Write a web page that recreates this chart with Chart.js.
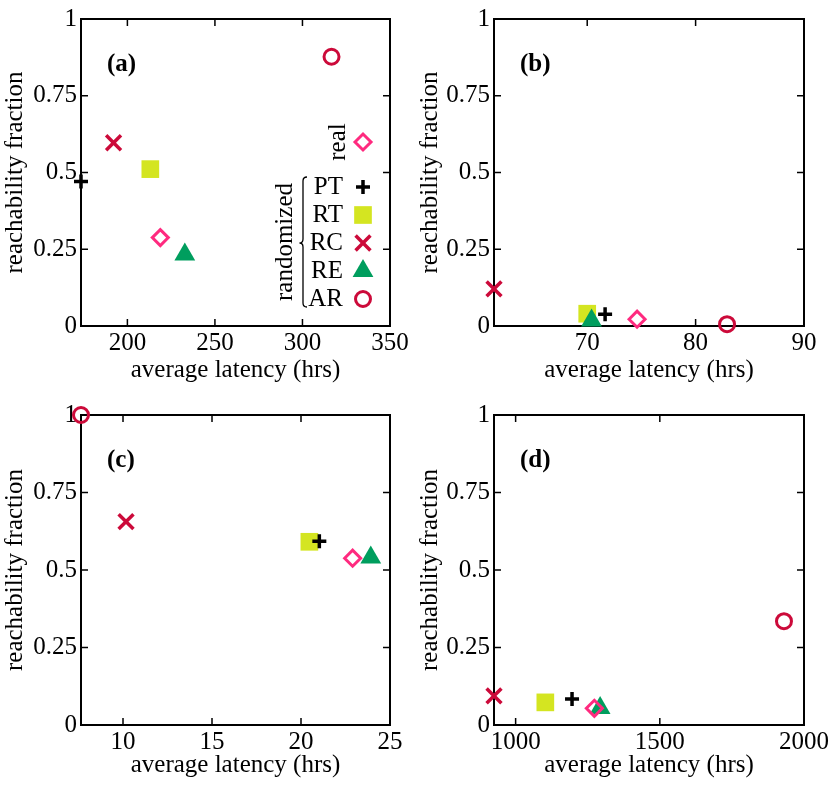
<!DOCTYPE html>
<html>
<head>
<meta charset="utf-8">
<script src="https://cdn.jsdelivr.net/npm/chart.js@4.4.0/dist/chart.umd.min.js"></script>
<style>
  body { margin: 0; background: #fff; }
  canvas { position: absolute; }
</style>
</head>
<body>
<canvas id="pa" width="415" height="395" style="left:0;top:0"></canvas>
<canvas id="pb" width="416" height="395" style="left:415px;top:0"></canvas>
<canvas id="pc" width="415" height="395" style="left:0;top:395px"></canvas>
<canvas id="pd" width="416" height="395" style="left:415px;top:395px"></canvas>
<script>
// series order: real, PT, RT, RC, RE, AR
var seriesNames = ['real', 'PT', 'RT', 'RC', 'RE', 'AR'];

var latencyA = [218.8, 173.5, 213.1, 192.1, 232.8, 316.6];
var reachA = [0.288, 0.471, 0.511, 0.597, 0.233, 0.877];

var latencyB = [74.6, 71.65, 70.0, 61.4, 70.4, 82.9];
var reachB = [0.022, 0.038, 0.040, 0.121, 0.018, 0.006];

var latencyC = [22.9, 21.03, 20.47, 10.17, 23.92, 7.64];
var reachC = [0.538, 0.593, 0.591, 0.656, 0.540, 1.0];

var latencyD = [1273, 1195.6, 1103, 925, 1293, 1930.6];
var reachD = [0.054, 0.084, 0.073, 0.094, 0.055, 0.335];

var xTicksA = [200, 250, 300, 350];
var xTicksB = [70, 80, 90];
var xTicksC = [10, 15, 20, 25];
var xTicksD = [1000, 1500, 2000];
var xLabelsA = ['200', '250', '300', '350'];
var xLabelsB = ['70', '80', '90'];
var xLabelsC = ['10', '15', '20', '25'];
var xLabelsD = ['1000', '1500', '2000'];
var yTicks = [0, 0.25, 0.5, 0.75, 1];
var yLabels = ['0', '0.25', '0.5', '0.75', '1'];

var FONT = '"Liberation Serif", "DejaVu Serif", serif';
Chart.defaults.font.family = FONT;
Chart.defaults.font.size = 25;
Chart.defaults.color = '#000';

var crimson = '#cc0a3a';
var styles = {
    real: {pointStyle: 'rectRot', pointRadius: 8, borderColor: '#ff2a7f', backgroundColor: 'rgba(0,0,0,0)', borderWidth: 3, order: 1},
    PT: {pointStyle: 'cross', pointRadius: 7, borderColor: '#000', backgroundColor: '#000', borderWidth: 3.5, order: 3},
    RT: {pointStyle: 'rect', pointRadius: 12.5, borderColor: '#d4e521', backgroundColor: '#d4e521', borderWidth: 0, order: 4},
    RC: {pointStyle: 'crossRot', pointRadius: 10.5, borderColor: crimson, backgroundColor: crimson, borderWidth: 3.5, order: 1},
    RE: {pointStyle: 'triangle', pointRadius: 12, borderColor: '#009e5e', backgroundColor: '#009e5e', borderWidth: 0, order: 2},
    AR: {pointStyle: 'circle', pointRadius: 7.5, borderColor: crimson, backgroundColor: 'rgba(0,0,0,0)', borderWidth: 3, order: 1}
};

function marker(ctx, name, x, y) {
    var s = styles[name];
    ctx.save();
    ctx.strokeStyle = s.borderColor;
    ctx.fillStyle = s.backgroundColor;
    ctx.lineWidth = s.borderWidth;
    Chart.helpers.drawPoint(ctx, {pointStyle: s.pointStyle, radius: s.pointRadius, rotation: 0, borderWidth: s.borderWidth}, x, y);
    ctx.restore();
}

// box with inward ticks on all four sides, plus panel tag
var framePlugin = {
    id: 'frame',
    beforeDatasetsDraw: function (chart, args, opts) {
        var ctx = chart.ctx, a = chart.chartArea;
        var xs = chart.scales.x, ys = chart.scales.y;
        ctx.save();
        ctx.strokeStyle = '#000';
        ctx.lineWidth = 1.5;
        ctx.beginPath();
        xs.ticks.forEach(function (t) {
            var px = xs.getPixelForValue(t.value);
            if (px > a.left + 2 && px < a.right - 2) {
                ctx.moveTo(px, a.bottom); ctx.lineTo(px, a.bottom - 7);
                ctx.moveTo(px, a.top); ctx.lineTo(px, a.top + 7);
            }
        });
        ys.ticks.forEach(function (t) {
            var py = ys.getPixelForValue(t.value);
            if (py > a.top + 2 && py < a.bottom - 2) {
                ctx.moveTo(a.left, py); ctx.lineTo(a.left + 7, py);
                ctx.moveTo(a.right, py); ctx.lineTo(a.right - 7, py);
            }
        });
        ctx.stroke();
        ctx.lineWidth = 2;
        ctx.strokeRect(a.left, a.top, a.width, a.height);
        ctx.font = 'bold 25px ' + FONT;
        ctx.fillStyle = '#000';
        ctx.textBaseline = 'middle';
        ctx.textAlign = 'left';
        ctx.fillText(opts.tag, a.left + 26, a.top + 46);
        ctx.restore();
    }
};

// the key only sits in panel (a)
var keyPlugin = {
    id: 'key',
    afterDatasetsDraw: function (chart, args, opts) {
        if (!opts.show) return;
        var ctx = chart.ctx;
        ctx.save();
        ctx.fillStyle = '#000';
        ctx.font = '25px ' + FONT;
        ctx.textBaseline = 'middle';

        ctx.save();
        ctx.translate(338, 142);
        ctx.rotate(-Math.PI / 2);
        ctx.textAlign = 'center';
        ctx.fillText('real', 0, 0);
        ctx.restore();
        marker(ctx, 'real', 363, 142);

        ctx.save();
        ctx.translate(285, 242);
        ctx.rotate(-Math.PI / 2);
        ctx.textAlign = 'center';
        ctx.fillText('randomized', 0, 0);
        ctx.restore();

        ctx.strokeStyle = '#000';
        ctx.lineWidth = 1.3;
        ctx.beginPath();
        ctx.moveTo(307, 177);
        ctx.quadraticCurveTo(303, 177, 303, 181);
        ctx.lineTo(303, 239);
        ctx.quadraticCurveTo(303, 243, 299.5, 243);
        ctx.quadraticCurveTo(303, 243, 303, 247);
        ctx.lineTo(303, 303);
        ctx.quadraticCurveTo(303, 307, 307, 307);
        ctx.stroke();

        var rows = ['PT', 'RT', 'RC', 'RE', 'AR'];
        ctx.textAlign = 'right';
        rows.forEach(function (name, i) {
            var yy = 187 + i * 28;
            ctx.fillText(name, 343, yy);
            marker(ctx, name, 363, yy);
        });
        ctx.restore();
    }
};

function makePanel(id, box, lat, reach, xTicks, xLabels, tag, showKey) {
    var datasets = seriesNames.map(function (name, i) {
        var s = styles[name];
        return {
            label: name,
            data: [{x: lat[i], y: reach[i]}],
            pointStyle: s.pointStyle,
            pointRadius: s.pointRadius,
            pointHoverRadius: s.pointRadius,
            borderColor: s.borderColor,
            backgroundColor: s.backgroundColor,
            borderWidth: s.borderWidth,
            order: s.order,
            clip: false
        };
    });
    var w = box.w, h = box.h;
    return new Chart(document.getElementById(id), {
        type: 'scatter',
        data: {datasets: datasets},
        plugins: [framePlugin, keyPlugin],
        options: {
            responsive: false,
            animation: false,
            events: [],
            layout: {padding: {left: 0, right: w - (box.R - box.ox), top: box.T - box.oy, bottom: 0}},
            plugins: {
                legend: {display: false},
                tooltip: {enabled: false},
                frame: {tag: tag},
                key: {show: showKey}
            },
            scales: {
                x: {
                    type: 'linear',
                    min: Math.min.apply(null, lat),
                    max: xTicks[xTicks.length - 1],
                    grid: {display: false, drawTicks: false},
                    border: {display: false},
                    afterBuildTicks: function (s) { s.ticks = xTicks.map(function (v) { return {value: v}; }); },
                    afterFit: function (s) { s.height = box.oy + h - box.B; },
                    ticks: {
                        padding: 2, maxRotation: 0, autoSkip: false,
                        callback: function (v, i) { return xLabels[i]; }
                    },
                    title: {display: true, text: 'average latency (hrs)', padding: {top: 0, bottom: 10}}
                },
                y: {
                    type: 'linear',
                    min: 0,
                    max: 1,
                    grid: {display: false, drawTicks: false},
                    border: {display: false},
                    afterBuildTicks: function (s) { s.ticks = yTicks.map(function (v) { return {value: v}; }); },
                    afterFit: function (s) { s.width = box.L - box.ox; },
                    ticks: {
                        padding: 4,
                        callback: function (v, i) { return yLabels[i]; }
                    },
                    title: {display: true, text: 'reachability fraction', padding: {top: 0.5, bottom: 0}}
                }
            }
        }
    });
}

makePanel('pa', {ox: 0, oy: 0, w: 415, h: 395, L: 81, R: 390, T: 16, B: 326}, latencyA, reachA, xTicksA, xLabelsA, '(a)', true);
makePanel('pb', {ox: 415, oy: 0, w: 416, h: 395, L: 494, R: 804, T: 16, B: 326}, latencyB, reachB, xTicksB, xLabelsB, '(b)', false);
makePanel('pc', {ox: 0, oy: 395, w: 415, h: 395, L: 81, R: 390, T: 415, B: 725}, latencyC, reachC, xTicksC, xLabelsC, '(c)', false);
makePanel('pd', {ox: 415, oy: 395, w: 416, h: 395, L: 494, R: 804, T: 415, B: 725}, latencyD, reachD, xTicksD, xLabelsD, '(d)', false);
</script>
</body>
</html>
